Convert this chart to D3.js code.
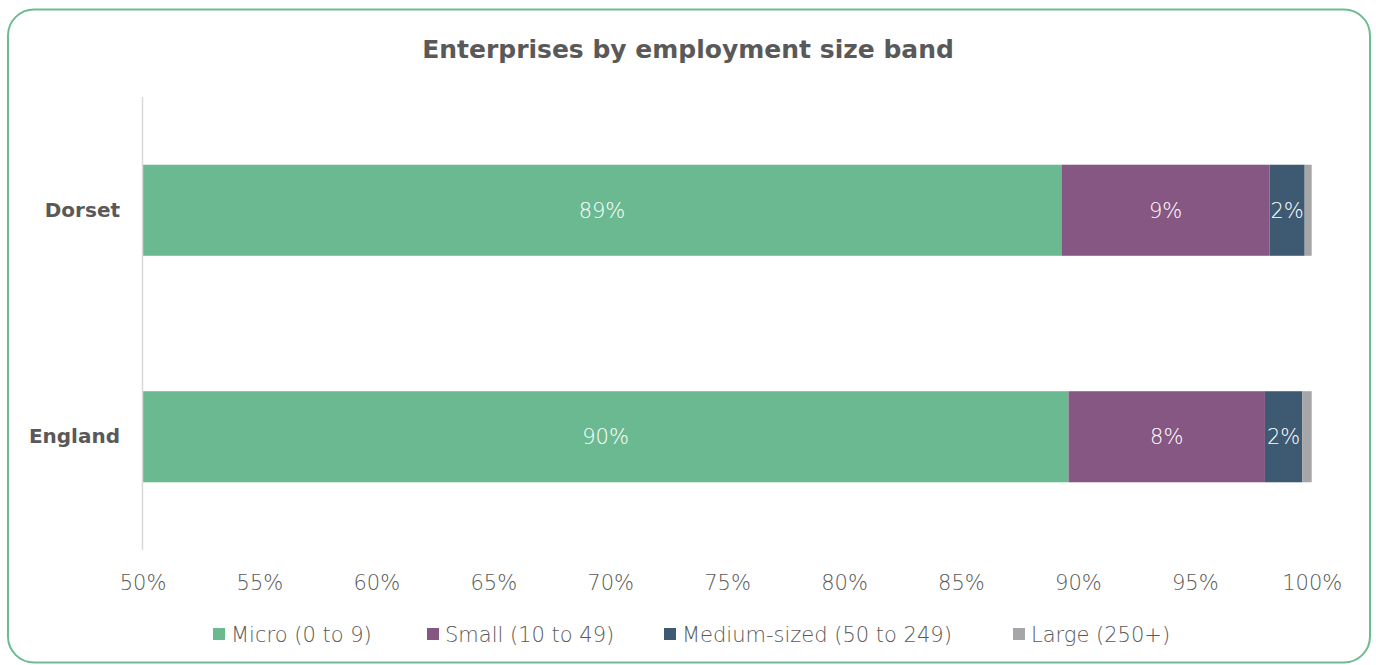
<!DOCTYPE html>
<html>
<head>
<meta charset="utf-8">
<script src="https://cdn.jsdelivr.net/npm/d3@7"></script>
<style>
  html, body { margin: 0; padding: 0; background: #fff; }
  svg { display: block; }
</style>
</head>
<body>
<svg id="chart" width="1376" height="665"></svg>
<script>
// Share of enterprises (%) in each employment size band
const areas = ["Dorset", "England"];
const bands = ["Micro (0 to 9)", "Small (10 to 49)", "Medium-sized (50 to 249)", "Large (250+)"];
const micro = [89.3, 89.6];
const small = [8.9, 8.4];
const medium = [1.5, 1.6];
const large = [0.3, 0.4];
const xTicks = [50, 55, 60, 65, 70, 75, 80, 85, 90, 95, 100];
const colors = ["#6bb991", "#875783", "#3d5a72", "#a6a6a8"];

const series = [micro, small, medium, large];
const rows = areas.map((a, i) => {
  const r = { area: a };
  bands.forEach((b, j) => { r[b] = series[j][i]; });
  return r;
});
const stacked = d3.stack().keys(bands)(rows);

const TEXT = "#595959";
const LIGHT_FONT = "'DejaVu Sans', Verdana, sans-serif";
const BOLD_FONT = "'DejaVu Sans', Verdana, sans-serif";
const LIGHT_WEIGHT = 200;

const svg = d3.select("#chart");

// outer frame
svg.append("rect")
  .attr("x", 8).attr("y", 9.5).attr("width", 1362).attr("height", 653)
  .attr("rx", 26).attr("ry", 26)
  .attr("fill", "#fff").attr("stroke", "#6dbb91").attr("stroke-width", 2);

svg.append("text")
  .attr("x", 688).attr("y", 58)
  .attr("text-anchor", "middle")
  .attr("font-family", BOLD_FONT)
  .attr("font-weight", "bold").attr("font-size", 25)
  .attr("fill", TEXT)
  .text("Enterprises by employment size band");

const x = d3.scaleLinear().domain([50, 100]).range([142.5, 1311.7]);
const y = d3.scaleBand().domain(areas).range([97, 550]).paddingInner(0.598).paddingOuter(0.299);

const layers = svg.append("g")
  .selectAll("g").data(stacked).join("g")
  .attr("fill", (d, i) => colors[i]);

layers.selectAll("rect").data(d => d).join("rect")
  .attr("x", d => x(Math.max(50, d[0])))
  .attr("y", d => y(d.data.area))
  .attr("width", d => x(d[1]) - x(Math.max(50, d[0])))
  .attr("height", y.bandwidth());

// vertical axis line
svg.append("line")
  .attr("x1", x(50)).attr("x2", x(50))
  .attr("y1", 97).attr("y2", 550)
  .attr("stroke", "#d9d9d9").attr("stroke-width", 1.5);

// value labels for the first three bands
const labelG = svg.append("g")
  .attr("font-family", LIGHT_FONT).attr("font-weight", LIGHT_WEIGHT)
  .attr("font-size", 21).attr("fill", "#fff").attr("text-anchor", "middle");
stacked.slice(0, 3).forEach(layer => {
  layer.forEach(d => {
    const v = d[1] - d[0];
    labelG.append("text")
      .attr("x", (x(Math.max(50, d[0])) + x(d[1])) / 2)
      .attr("y", y(d.data.area) + y.bandwidth() / 2)
      .attr("dy", "0.35em")
      .text(Math.round(v) + "%");
  });
});

// category axis
const yAxis = svg.append("g").attr("transform", "translate(120,0)")
  .call(d3.axisLeft(y).tickSize(0).tickPadding(0));
yAxis.select(".domain").remove();
yAxis.selectAll("text")
  .attr("font-family", BOLD_FONT)
  .attr("font-weight", "bold").attr("font-size", 20).attr("fill", TEXT);

// percentage axis
const xAxis = svg.append("g").attr("transform", "translate(0,575)")
  .call(d3.axisBottom(x).tickValues(xTicks).tickSize(0).tickPadding(0).tickFormat(d => d + "%"));
xAxis.select(".domain").remove();
xAxis.selectAll("text")
  .attr("dy", "0.72em")
  .attr("font-family", LIGHT_FONT).attr("font-weight", LIGHT_WEIGHT)
  .attr("font-size", 21).attr("fill", TEXT);

// legend
const legendX = [213, 427, 664, 1013];
const legend = svg.append("g");
bands.forEach((b, i) => {
  legend.append("rect")
    .attr("x", legendX[i]).attr("y", 628).attr("width", 12).attr("height", 12)
    .attr("fill", colors[i]);
  legend.append("text")
    .attr("x", legendX[i] + 18).attr("y", 642)
    .attr("font-family", LIGHT_FONT).attr("font-weight", LIGHT_WEIGHT)
    .attr("font-size", 21).attr("fill", TEXT)
    .text(b);
});
</script>
</body>
</html>
